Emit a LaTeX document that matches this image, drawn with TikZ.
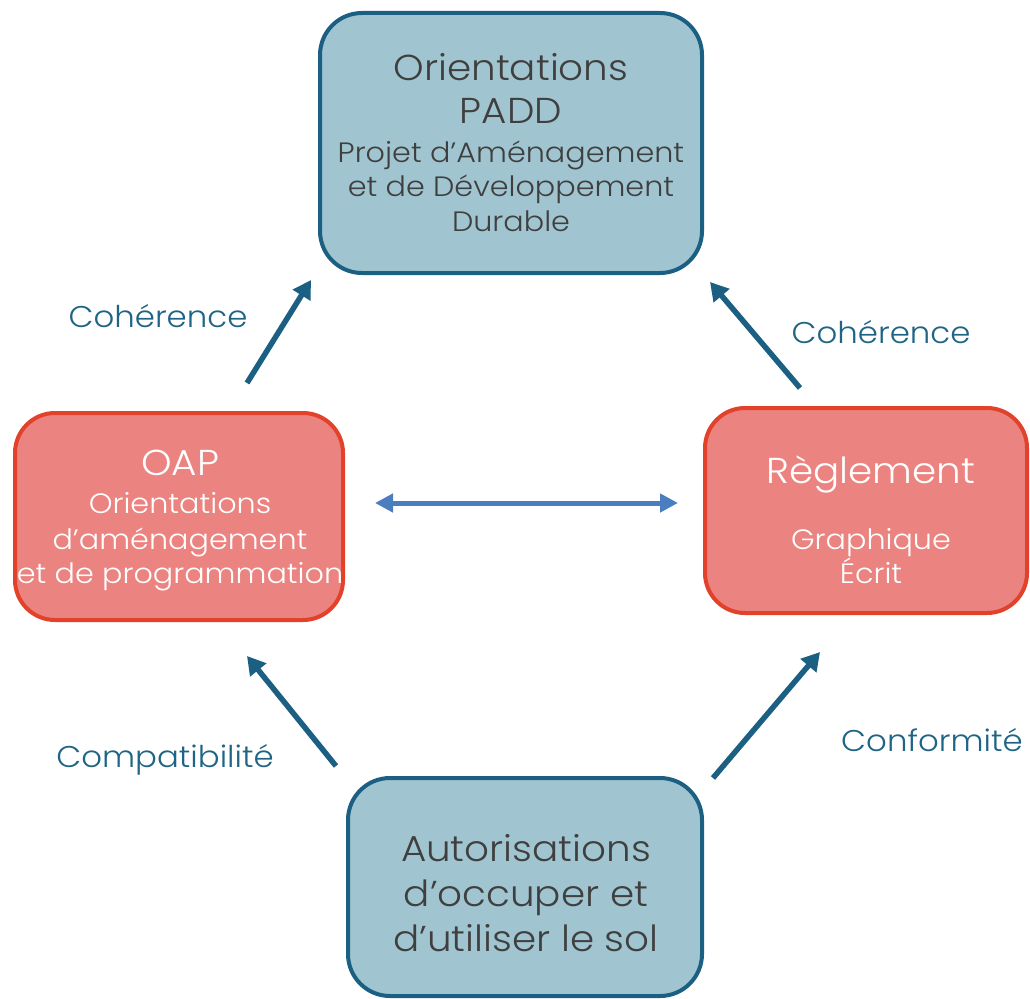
\documentclass[tikz,border=0pt]{standalone}
\usepackage{fontspec}
\setmainfont{Poppins Light}[FakeStretch=1.08]
\usetikzlibrary{arrows.meta}
\definecolor{tealb}{HTML}{1B6083}
\definecolor{tealf}{HTML}{A0C5D0}
\definecolor{redf}{HTML}{EB8381}
\definecolor{redb}{HTML}{E2412A}
\definecolor{txtgray}{HTML}{3F3F3F}
\definecolor{lblc}{HTML}{1F6485}
\definecolor{bluea}{HTML}{4A7EC0}
\tikzset{
  bluebox/.style={draw=tealb,fill=tealf,line width=4pt,rounded corners=42pt},
  redbox/.style={draw=redb,fill=redf,line width=4pt,rounded corners=40pt},
  big/.style={anchor=base,inner sep=0pt,font=\fontsize{36}{40}\selectfont},
  small/.style={anchor=base,inner sep=0pt,font=\fontsize{28}{32}\selectfont},
  lbl/.style={anchor=base,inner sep=0pt,text=lblc,font=\fontsize{30}{34}\selectfont},
  conn/.style={draw=tealb,line width=5.5pt,-{Triangle[length=18pt,width=20pt]}},
  dbl/.style={draw=bluea,line width=5pt,{Triangle[length=18pt,width=18pt]}-{Triangle[length=18pt,width=18pt]}}
}
\begin{document}
\begin{tikzpicture}[x=1pt,y=-1pt]
\useasboundingbox (0,0) rectangle (1030,998);
% boxes
\draw[bluebox] (320,13) rectangle (702,273);
\draw[redbox] (15,413) rectangle (343,620);
\draw[redbox] (705,408) rectangle (1027,613);
\draw[bluebox] (348,778) rectangle (702,996);
% top text
\node[big,text=txtgray] (t1) at (511,80) {Orientations};
\node[big,text=txtgray] (t2) at (511,123) {PADD};
\node[small,text=txtgray] (t3) at (511,162) {Projet d’Aménagement};
\node[small,text=txtgray] (t4) at (511,196) {et de Développement};
\node[small,text=txtgray] (t5) at (511,231) {Durable};
% OAP text
\node[big,text=white] (o1) at (180,475) {OAP};
\node[small,text=white] (o2) at (180,513) {Orientations};
\node[small,text=white] (o3) at (180,549) {d’aménagement};
\node[small,text=white] (o4) at (180,583) {et de programmation};
% Reglement text
\node[big,text=white] (r1) at (871,483) {Règlement};
\node[small,text=white] (r2) at (871,549) {Graphique};
\node[small,text=white] (r3) at (871,583) {Écrit};
% bottom text
\node[big,text=txtgray] (b1) at (526,861) {Autorisations};
\node[big,text=txtgray] (b2) at (526,906) {d’occuper et};
\node[big,text=txtgray] (b3) at (526,951) {d’utiliser le sol};
% labels
\node[lbl] (l1) at (158,327) {Cohérence};
\node[lbl] (l2) at (881,343) {Cohérence};
\node[lbl] (l3) at (165,767) {Compatibilité};
\node[lbl] (l4) at (932,751) {Conformité};
% arrow endpoints
\coordinate (a1s) at (247,383); \coordinate (a1e) at (311,280);
\coordinate (a2s) at (800,388); \coordinate (a2e) at (710,282);
\coordinate (a3s) at (336,766); \coordinate (a3e) at (247,656);
\coordinate (a4s) at (713,778); \coordinate (a4e) at (820,652);
\coordinate (hs) at (375,503); \coordinate (he) at (678,503);
\draw[conn] (a1s) -- (a1e);
\draw[conn] (a2s) -- (a2e);
\draw[conn] (a3s) -- (a3e);
\draw[conn] (a4s) -- (a4e);
\draw[dbl] (hs) -- (he);
\end{tikzpicture}
\end{document}
